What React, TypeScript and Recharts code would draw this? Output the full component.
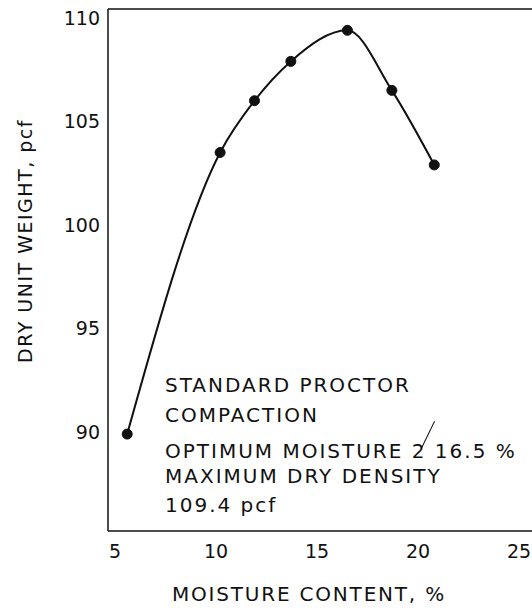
import { LineChart, Line, XAxis, YAxis, ReferenceLine } from "recharts";

// proctor test results
const moisture = [5.6, 10.2, 11.9, 13.7, 16.5, 18.7, 20.8];
const dryUnitWeight = [89.9, 103.5, 106.0, 107.9, 109.4, 106.5, 102.9];
const xTicks = [5, 10, 15, 20, 25];
const yTicks = [90, 95, 100, 105, 110];
const notes = [
  "STANDARD PROCTOR",
  "COMPACTION",
  "OPTIMUM MOISTURE 2 16.5 %",
  "MAXIMUM DRY DENSITY",
  "109.4 pcf",
];

const data = moisture.map((x, i) => ({ x, y: dryUnitWeight[i] }));

const font = "'DejaVu Sans', sans-serif";
const noteTops = [375, 405, 441, 466, 495];
const xDomain = [4.65, 26.28];
const yDomain = [85.22, 110.43];

export default function App() {
  const tickStyle = { fontSize: 19, fill: "#111", fontFamily: font };
  return (
    <div
      style={{
        position: "fixed",
        left: 0,
        top: 0,
        width: 532,
        height: 610,
        overflow: "hidden",
        background: "#fff",
        fontFamily: font,
        color: "#111",
      }}
    >
      <LineChart width={560} height={610} data={data} margin={{ top: 9, right: 15, bottom: 29, left: 48 }}>
        <XAxis
          dataKey="x"
          type="number"
          domain={xDomain}
          ticks={xTicks}
          stroke="#111"
          strokeWidth={1.5}
          tickLine={false}
          tickSize={0}
          tickMargin={14}
          height={50}
          tick={tickStyle}
        />
        <YAxis
          type="number"
          domain={yDomain}
          ticks={yTicks}
          stroke="#111"
          strokeWidth={1.5}
          tickLine={false}
          tickSize={0}
          tickMargin={8}
          width={60}
          tick={tickStyle}
        />
        {/* top edge of the frame */}
        <ReferenceLine y={yDomain[1]} stroke="#111" strokeWidth={1.5} />
        <Line
          dataKey="y"
          type="monotone"
          stroke="#111"
          strokeWidth={2}
          dot={{ r: 5, fill: "#111", stroke: "#111", strokeWidth: 1 }}
          isAnimationActive={false}
        />
      </LineChart>

      {/* y axis title */}
      <div
        style={{
          position: "absolute",
          left: 25 - 150,
          top: 241 - 10,
          width: 300,
          height: 20,
          lineHeight: "20px",
          fontSize: 19,
          textAlign: "center",
          transform: "rotate(-90deg)",
          letterSpacing: 1.5,
        }}
      >
        DRY UNIT WEIGHT, pcf
      </div>

      {/* x axis title */}
      <div
        style={{
          position: "absolute",
          left: 159,
          top: 584,
          width: 300,
          lineHeight: "20px",
          fontSize: 20,
          textAlign: "center",
          letterSpacing: 1.8,
        }}
      >
        MOISTURE CONTENT, %
      </div>

      {notes.map((t, i) => (
        <div
          key={t}
          style={{
            position: "absolute",
            left: 165,
            top: noteTops[i],
            lineHeight: "20px",
            fontSize: 20,
            letterSpacing: 2,
            whiteSpace: "nowrap",
          }}
        >
          {t}
        </div>
      ))}
      {/* pen stroke over the "2" */}
      <div
        style={{
          position: "absolute",
          left: 421,
          top: 448,
          width: 30,
          height: 0,
          borderTop: "1.5px solid #111",
          transform: "rotate(-64deg)",
          transformOrigin: "0 0",
        }}
      />
    </div>
  );
}
